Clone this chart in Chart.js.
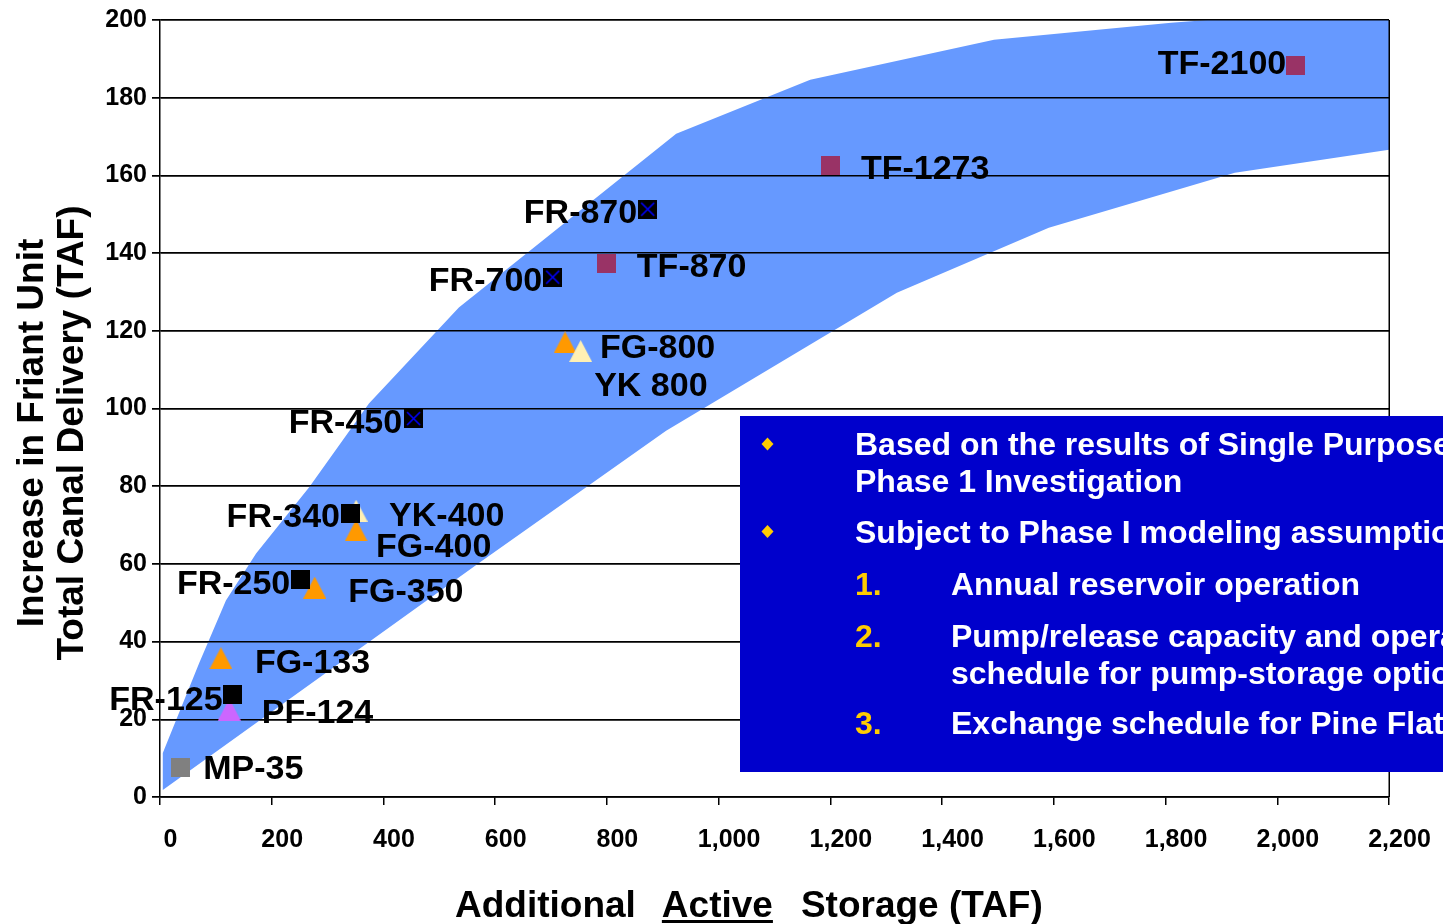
<!DOCTYPE html>
<html>
<head>
<meta charset="utf-8">
<title>Friant Unit delivery vs additional storage</title>
<script src="https://cdn.jsdelivr.net/npm/chart.js@4.4.1/dist/chart.umd.min.js"></script>
<style>
  html, body { margin: 0; padding: 0; background: #ffffff; overflow: hidden; }
  #wrap { position: relative; width: 1443px; height: 924px; }
</style>
</head>
<body>
<div id="wrap"><canvas id="chart" width="1443" height="924"></canvas></div>
<script>
// ---- Alternatives: additional active storage (TAF) vs increase in delivery (TAF) ----
const frNames = ['FR-125', 'FR-250', 'FR-340'];
const frStorage = [130, 252, 341];
const frDelivery = [26.3, 55.9, 72.9];

const frxNames = ['FR-450', 'FR-700', 'FR-870'];
const frxStorage = [454, 703, 873];
const frxDelivery = [97.4, 133.8, 151.3];

const tfNames = ['TF-870', 'TF-1273', 'TF-2100'];
const tfStorage = [799, 1201, 2033];
const tfDelivery = [137.4, 162.6, 188.3];

const mpNames = ['MP-35'];
const mpStorage = [37];
const mpDelivery = [7.7];

const ykNames = ['YK-400', 'YK 800'];
const ykStorage = [351, 753];
const ykDelivery = [73.7, 114.8];

const fgNames = ['FG-133', 'FG-350', 'FG-400', 'FG-800'];
const fgStorage = [109, 277, 351, 725];
const fgDelivery = [35.7, 53.9, 68.6, 117];

const pfNames = ['PF-124'];
const pfStorage = [124];
const pfDelivery = [22.5];

// Range band: upper edge left to right, then lower edge right to left
const bandUpperStorage = [5, 70, 118, 172, 267, 374, 535, 924, 1164, 1493, 1810, 2200];
const bandUpperDelivery = [11.3, 34.4, 50.6, 62.7, 79.7, 101.3, 126, 170.7, 184.6, 194.9, 199.3, 203.5];
const bandLowerStorage = [2200, 1924, 1591, 1319, 906, 571, 5];
const bandLowerDelivery = [166.6, 160.7, 146.5, 129.8, 94.3, 60.2, 1.8];

// Axis ticks
const storageTicks = [0, 200, 400, 600, 800, 1000, 1200, 1400, 1600, 1800, 2000, 2200];
const deliveryTicks = [0, 20, 40, 60, 80, 100, 120, 140, 160, 180, 200];

// Titles and note text
const xTitleParts = ['Additional', 'Active', 'Storage (TAF)'];
const yTitleLines = ['Increase in Friant Unit', 'Total Canal Delivery (TAF)'];
const noteBullets = [
  ['Based on the results of Single Purpose', 'Phase 1 Investigation'],
  ['Subject to Phase I modeling assumptions:']
];
const noteItems = [
  ['1.', ['Annual reservoir operation']],
  ['2.', ['Pump/release capacity and operation', 'schedule for pump-storage options']],
  ['3.', ['Exchange schedule for Pine Flat']]
];

// Where each point label sits relative to its marker: [dx, dy, align]
const labelPlacement = {
  'MP-35':   [22.5, 0, 'left'],
  'FR-125':  [-10, 3, 'right'],
  'PF-124':  [32.5, 1, 'left'],
  'FG-133':  [34, 3, 'left'],
  'FR-250':  [-10.5, 2, 'right'],
  'FG-350':  [33.5, 2.5, 'left'],
  'FR-340':  [-10.5, 1.5, 'right'],
  'YK-400':  [33, 3, 'left'],
  'FG-400':  [20, 14.5, 'left'],
  'FR-450':  [-11.5, 2, 'right'],
  'FG-800':  [35, 3.5, 'left'],
  'YK 800':  [13.5, 33, 'left'],
  'FR-700':  [-10.5, 2, 'right'],
  'TF-870':  [30.5, 1.5, 'left'],
  'FR-870':  [-10.5, 2, 'right'],
  'TF-1273': [30, 2, 'left'],
  'TF-2100': [-9.5, -4, 'right']
};

const FONT = "'Liberation Sans', Arial, Helvetica, sans-serif";
Chart.defaults.font.family = FONT;
Chart.defaults.color = '#000000';

// ---- Marker sprites ----
function squareSprite(fill, cross) {
  const s = 19;
  const c = document.createElement('canvas');
  c.width = s; c.height = s;
  const g = c.getContext('2d');
  g.fillStyle = fill;
  g.fillRect(0, 0, s, s);
  if (cross) {
    g.strokeStyle = '#0000FF';
    g.lineWidth = 1.6;
    g.beginPath();
    g.moveTo(3, 3); g.lineTo(s - 3, s - 3);
    g.moveTo(s - 3, 3); g.lineTo(3, s - 3);
    g.stroke();
  }
  return c;
}
function triangleSprite(fill) {
  const w = 23, h = 22;
  const c = document.createElement('canvas');
  c.width = w; c.height = h;
  const g = c.getContext('2d');
  g.fillStyle = fill;
  g.beginPath();
  g.moveTo(0, h); g.lineTo(w / 2, 0); g.lineTo(w, h);
  g.closePath();
  g.fill();
  return c;
}

function pts(xs, ys) { return xs.map((x, i) => ({ x: x, y: ys[i] })); }

function markerSet(names, xs, ys, sprite) {
  return {
    type: 'scatter',
    names: names,
    data: pts(xs, ys),
    pointStyle: sprite,
    pointRadius: 10,
    pointHoverRadius: 10,
    showLine: false
  };
}

const bandPoints = pts(bandUpperStorage, bandUpperDelivery)
  .concat(pts(bandLowerStorage, bandLowerDelivery));

const datasets = [
  markerSet(frNames, frStorage, frDelivery, squareSprite('#000000', false)),
  markerSet(frxNames, frxStorage, frxDelivery, squareSprite('#000000', true)),
  markerSet(tfNames, tfStorage, tfDelivery, squareSprite('#993366', false)),
  markerSet(mpNames, mpStorage, mpDelivery, squareSprite('#808080', false)),
  markerSet(ykNames, ykStorage, ykDelivery, triangleSprite('#FFF0B4')),
  markerSet(fgNames, fgStorage, fgDelivery, triangleSprite('#FF9900')),
  markerSet(pfNames, pfStorage, pfDelivery, triangleSprite('#CC66FF')),
  {
    type: 'scatter',
    names: [],
    data: bandPoints,
    showLine: true,
    fill: 'shape',
    backgroundColor: '#6699FF',
    borderColor: 'rgba(0,0,0,0)',
    borderWidth: 0,
    pointRadius: 0,
    tension: 0
  }
];
const BAND_INDEX = datasets.length - 1;

// Grid lines sit above the band, border on the right of the plot
const gridOverBand = {
  id: 'gridOverBand',
  afterDatasetDraw(chart, args) {
    if (args.index !== BAND_INDEX) return;
    chart.scales.y.drawGrid(chart.chartArea);
    const a = chart.chartArea, ctx = chart.ctx;
    ctx.save();
    ctx.strokeStyle = '#000000';
    ctx.lineWidth = 1.5;
    ctx.beginPath();
    ctx.moveTo(Math.round(a.right) + 0.25, a.top);
    ctx.lineTo(Math.round(a.right) + 0.25, a.bottom);
    ctx.stroke();
    ctx.restore();
  }
};

// Point labels
const pointLabels = {
  id: 'pointLabels',
  afterDatasetsDraw(chart) {
    const ctx = chart.ctx;
    const size = 34;
    ctx.save();
    ctx.font = 'bold ' + size + 'px ' + FONT;
    ctx.fillStyle = '#000000';
    ctx.textBaseline = 'alphabetic';
    chart.data.datasets.forEach((ds, i) => {
      const meta = chart.getDatasetMeta(i);
      (ds.names || []).forEach((name, j) => {
        const el = meta.data[j];
        const p = labelPlacement[name];
        if (!el || !p) return;
        ctx.textAlign = p[2];
        ctx.fillText(name, el.x + p[0], el.y + p[1] + size * 0.716 / 2);
      });
    });
    ctx.restore();
  }
};

// Axis titles and the note panel
const decorations = {
  id: 'decorations',
  afterDraw(chart) {
    const ctx = chart.ctx;
    const a = chart.chartArea;
    ctx.save();

    // x title with underlined middle word
    const xs = 37;
    ctx.font = 'bold ' + xs + 'px ' + FONT;
    ctx.fillStyle = '#000000';
    ctx.textAlign = 'left';
    ctx.textBaseline = 'alphabetic';
    const gaps = [26, 28];
    const xBase = 917;
    let x = a.left + 295;
    xTitleParts.forEach((part, i) => {
      const w = ctx.measureText(part).width;
      ctx.fillText(part, x, xBase);
      if (i === 1) ctx.fillRect(x, xBase + 3, w, 3);
      x += w + (gaps[i] || 0);
    });

    // y title, two rotated lines
    const ys = 37;
    ctx.font = 'bold ' + ys + 'px ' + FONT;
    ctx.textAlign = 'center';
    const yCenter = 433;
    [43, 83].forEach((bx, i) => {
      ctx.save();
      ctx.translate(bx, yCenter);
      ctx.rotate(-Math.PI / 2);
      ctx.fillText(yTitleLines[i], 0, 0);
      ctx.restore();
    });

    // note panel
    const bx = 740, by = 416;
    ctx.fillStyle = '#0000CC';
    ctx.fillRect(bx, by, chart.width - bx, 356);

    const ns = 32;
    const half = ns * 0.716 / 2;
    ctx.font = 'bold ' + ns + 'px ' + FONT;
    ctx.textAlign = 'left';
    const col1 = 855, col2 = 951;
    const diamond = (cx, cy) => {
      ctx.fillStyle = '#FFCC00';
      ctx.beginPath();
      ctx.moveTo(cx, cy - 6.5); ctx.lineTo(cx + 6, cy);
      ctx.lineTo(cx, cy + 6.5); ctx.lineTo(cx - 6, cy);
      ctx.closePath(); ctx.fill();
    };
    const bulletRows = [[444, 481], [531.5]];
    noteBullets.forEach((lines, i) => {
      diamond(767.5, bulletRows[i][0]);
      ctx.fillStyle = '#FFFFFF';
      lines.forEach((t, k) => ctx.fillText(t, col1, bulletRows[i][k] + half));
    });
    const itemRows = [[584], [636, 673], [723]];
    noteItems.forEach((item, i) => {
      ctx.fillStyle = '#FFCC00';
      ctx.fillText(item[0], col1, itemRows[i][0] + half);
      ctx.fillStyle = '#FFFFFF';
      item[1].forEach((t, k) => ctx.fillText(t, col2, itemRows[i][k] + half));
    });

    ctx.restore();
  }
};

new Chart(document.getElementById('chart'), {
  type: 'scatter',
  data: { datasets: datasets },
  options: {
    responsive: false,
    animation: false,
    events: [],
    devicePixelRatio: 1,
    layout: { padding: { left: 0, top: 19, right: 54, bottom: 0 } },
    plugins: {
      legend: { display: false },
      tooltip: { enabled: false },
      filler: { propagate: false }
    },
    scales: {
      x: {
        type: 'linear',
        min: 0,
        max: 2200,
        afterBuildTicks: (s) => { s.ticks = storageTicks.map(v => ({ value: v })); },
        afterFit: (s) => { s.height = 127; },
        grid: { display: true, drawOnChartArea: false, drawTicks: true, tickLength: 8, color: '#000000', lineWidth: 1.5 },
        border: { display: true, color: '#000000', width: 1.5 },
        ticks: {
          font: { size: 25, weight: 'bold' },
          color: '#000000',
          padding: 20,
          labelOffset: 10.5,
          maxRotation: 0,
          autoSkip: false,
          callback: (v) => v.toLocaleString('en-US')
        }
      },
      y: {
        type: 'linear',
        min: 0,
        max: 200,
        afterBuildTicks: (s) => { s.ticks = deliveryTicks.map(v => ({ value: v })); },
        afterFit: (s) => { s.width = 160; },
        grid: { display: true, drawOnChartArea: true, drawTicks: true, tickLength: 8, color: '#000000', lineWidth: 1.5 },
        border: { display: true, color: '#000000', width: 1.5 },
        ticks: {
          font: { size: 25, weight: 'bold' },
          color: '#000000',
          padding: 5,
          autoSkip: false,
          callback: (v) => String(v)
        }
      }
    }
  },
  plugins: [gridOverBand, pointLabels, decorations]
});
</script>
</body>
</html>
